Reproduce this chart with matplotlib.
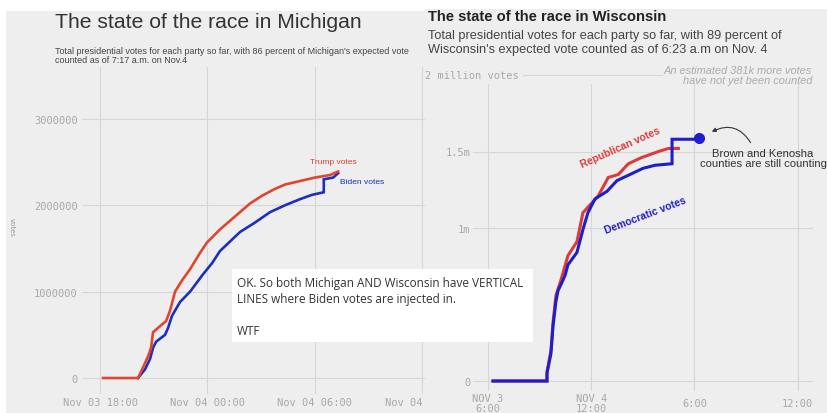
import matplotlib
matplotlib.use("Agg")
import matplotlib.pyplot as plt
from matplotlib.patches import Rectangle

W, H = 827, 414

# Michigan: hours since Nov 3 00:00, votes in millions
mi_trump_t = [18.17, 20.12, 20.35, 20.68, 20.85, 20.96, 21.35, 21.69, 21.91, 22.19, 22.58, 23.03,
              23.59, 23.98, 24.70, 25.26, 25.82, 26.38, 27.05, 27.78, 28.34, 29.17, 30.01, 30.85, 31.30]
mi_trump_v = [0, 0, 0.10, 0.25, 0.35, 0.53, 0.60, 0.66, 0.78, 1.00, 1.13, 1.26,
              1.45, 1.57, 1.72, 1.82, 1.92, 2.02, 2.11, 2.19, 2.24, 2.28, 2.32, 2.35, 2.39]
mi_biden_t = [20.12, 20.51, 20.79, 20.96, 21.13, 21.63, 21.80, 22.02, 22.47, 23.03, 23.75, 24.26,
              24.70, 25.26, 25.82, 26.66, 27.50, 28.34, 29.17, 29.84, 30.50, 30.50, 31.02, 31.30]
mi_biden_v = [0, 0.10, 0.22, 0.35, 0.42, 0.50, 0.58, 0.72, 0.88, 1.00, 1.20, 1.33,
              1.47, 1.58, 1.69, 1.80, 1.92, 2.00, 2.07, 2.12, 2.15, 2.30, 2.32, 2.37]
mi_ticks = [18, 24, 30, 36]
mi_ticklabels = ["Nov 03 18:00", "Nov 04 00:00", "Nov 04 06:00", "Nov 04 12:00"]
mi_yticks = [0, 1, 2, 3]
mi_yticklabels = ["0", "1000000", "2000000", "3000000"]

# Wisconsin
wi_dem_t = [18.29, 21.43, 21.43, 21.66, 21.78, 21.95, 22.07, 22.24, 22.48, 22.65, 23.17, 23.52,
            23.81, 24.22, 24.92, 25.50, 26.26, 27.01, 27.71, 28.70, 28.70, 30.03]
wi_dem_v = [0, 0, 0.05, 0.18, 0.36, 0.52, 0.59, 0.63, 0.69, 0.76, 0.84, 0.99,
            1.10, 1.19, 1.24, 1.31, 1.35, 1.39, 1.41, 1.42, 1.58, 1.58]
wi_rep_t = [18.29, 21.43, 21.43, 21.66, 21.78, 21.95, 22.24, 22.65, 23.17, 23.52, 24.41, 24.99,
            25.58, 26.16, 26.92, 27.91, 28.49, 29.07]
wi_rep_v = [0, 0, 0.06, 0.20, 0.38, 0.56, 0.66, 0.82, 0.91, 1.10, 1.21, 1.33,
            1.35, 1.42, 1.46, 1.50, 1.52, 1.52]
wi_dot = (30.27, 1.59)
wi_ticks = [18, 24, 30, 36]
wi_ticklabels = ["NOV 3\n6:00", "NOV 4\n12:00", "6:00", "12:00"]
wi_yticks = [0, 1, 1.5]
wi_yticklabels = ["0", "1m", "1.5m"]

bg = "#eeeeee"
grid = "#d6d6d6"
tickc = "#a8a8a8"
mono = "DejaVu Sans Mono"


def ax_at(fig, left, top, right, bottom, **kw):
    return fig.add_axes([left / W, 1 - bottom / H, (right - left) / W, (bottom - top) / H], **kw)


def fx(x):
    return x / W


def fy(y):
    return 1 - y / H


fig = plt.figure(figsize=(W / 100, H / 100), dpi=100, facecolor="white")

# panels
fig.patches.append(Rectangle((fx(6), 0), fx(425 - 6), fy(12), transform=fig.transFigure,
                             facecolor=bg, edgecolor="none", zorder=-1))

# ---------------- Michigan ----------------
ax = ax_at(fig, 82, 68, 425, 395)
ax.set_facecolor("none")
ax.set_xlim(16.99, 18 + (425 - 100) / 17.9)
ax.set_ylim(-0.185, 3.6)
ax.plot(mi_biden_t, mi_biden_v, color="#1c2fbf", lw=1.9, solid_joinstyle="miter")
ax.plot(mi_trump_t, mi_trump_v, color="#e0452f", lw=1.9, solid_joinstyle="miter")
ax.set_xticks(mi_ticks)
ax.set_xticklabels(mi_ticklabels, family=mono, fontsize=7.5, color=tickc)
ax.set_yticks(mi_yticks)
ax.set_yticklabels(mi_yticklabels, family=mono, fontsize=7.5, color=tickc)
ax.tick_params(length=0, pad=2.5)
ax.tick_params(axis="y", pad=3)
ax.grid(True, color=grid, lw=0.8)
for s in ax.spines.values():
    s.set_visible(False)
ax.text(mi_trump_t[-1] - 0.25, mi_trump_v[-1] + 0.07, "Trump votes", color="#d8402e", fontsize=6,
        ha="center", va="bottom", family="Liberation Sans")
ax.text(mi_biden_t[-1] + 0.1, mi_biden_v[-1] - 0.1, "Biden votes", color="#1c2fbf", fontsize=6,
        ha="left", va="center", family="Liberation Sans")

fig.text(fx(55), fy(22), "The state of the race in Michigan", fontsize=15.2, color="#333333",
         family="Liberation Sans", va="center", ha="left")
fig.text(fx(55), fy(56), "Total presidential votes for each party so far, with 86 percent of "
         "Michigan's expected vote\ncounted as of 7:17 a.m. on Nov.4", fontsize=6.5,
         color="#444444", family="Liberation Sans", va="center", ha="left", linespacing=0.95)
fig.text(fx(12), fy(228), "votes", rotation=270, fontsize=5, color="#999999", ha="center", va="center")

# ---------------- Wisconsin ----------------
fig.patches.append(Rectangle((fx(425), 0), fx(W - 425), fy(10), transform=fig.transFigure,
                             facecolor=bg, edgecolor="none", zorder=1.5))

wx = ax_at(fig, 473, 85, 813, 392, zorder=2)
wx.set_facecolor("none")
wx.set_xlim(18 - 15 / 17.2, 18 + 325 / 17.2)
wx.set_ylim(-10 / 153, (382 - 85) / 153)
wx.plot(wi_rep_t, wi_rep_v, color="#dd3b3b", lw=2.2, solid_joinstyle="miter")
wx.plot(wi_dem_t, wi_dem_v, color="#1e1ecc", lw=2.2, solid_joinstyle="miter")
wx.plot(*wi_dot, "o", color="#1e1ecc", ms=7)
wx.set_xticks(wi_ticks)
wx.set_xticklabels(wi_ticklabels, family=mono, fontsize=7.5, color=tickc, linespacing=1.0)
for lbl in wx.get_xticklabels():
    lbl.set_va("center")
wx.set_yticks(wi_yticks)
wx.set_yticklabels(wi_yticklabels, family=mono, fontsize=7.5, color=tickc)
wx.tick_params(axis="x", length=0, pad=8.5)
wx.tick_params(axis="y", length=0, pad=2)
wx.grid(True, color=grid, lw=0.8)
for s in wx.spines.values():
    s.set_visible(False)

# 2 million line with label
wx.text(17.13 - 48 / 17.2, 2.0, "2 million votes", family=mono, fontsize=7.5, color=tickc,
        ha="left", va="center", clip_on=False)
wx.plot([18 + (523 - 488) / 17.2, 18 + (662 - 488) / 17.2], [2.0, 2.0], color=grid, lw=0.8,
        clip_on=False)
wx.text(18 + (812 - 488) / 17.2, 2.0, "An estimated 381k more votes\nhave not yet been counted",
        fontsize=7.9, style="italic", color="#ababab", family="Liberation Sans", ha="right",
        va="center", linespacing=1.0, clip_on=False)

wx.text(18 + (620 - 488) / 17.2, (382 - 148) / 153, "Republican votes", color="#dd3b3b",
        fontsize=7.5, fontweight="bold", rotation=24, ha="center", va="center",
        family="Liberation Sans")
wx.text(18 + (645 - 488) / 17.2, (382 - 216) / 153, "Democratic votes", color="#1e1ecc",
        fontsize=7.5, fontweight="bold", rotation=21, ha="center", va="center",
        family="Liberation Sans")
wx.text(18 + (763 - 488) / 17.2, (382 - 159) / 153, "Brown and Kenosha\ncounties are still counting",
        fontsize=8.1, color="#333333", ha="center", va="center", family="Liberation Sans",
        linespacing=1.05, clip_on=False)
wx.annotate("", xy=(wi_dot[0] + 0.6, wi_dot[1] + 0.03),
            xytext=(18 + (752 - 488) / 17.2, (382 - 146) / 153),
            arrowprops=dict(arrowstyle="-|>", color="#333333", lw=0.8, mutation_scale=6,
                            connectionstyle="arc3,rad=0.5"))

fig.text(fx(428), fy(17), "The state of the race in Wisconsin", fontsize=10.6, fontweight="bold",
         color="#222222", family="Liberation Sans", va="center", ha="left", zorder=3)
fig.text(fx(428), fy(43), "Total presidential votes for each party so far, with 89 percent of\n"
         "Wisconsin's expected vote counted as of 6:23 a.m on Nov. 4", fontsize=9.2,
         color="#444444", family="Liberation Sans", va="center", ha="left", linespacing=1.2,
         zorder=3)

# overlay comment box
fig.patches.append(Rectangle((fx(232), fy(343)), fx(533 - 232), (343 - 270) / H,
                             transform=fig.transFigure, facecolor="white", edgecolor="none",
                             zorder=4))
fig.text(fx(237), fy(308), "OK. So both Michigan AND Wisconsin have VERTICAL\n"
         "LINES where Biden votes are injected in.\n\nWTF", fontsize=8.5, color="#333333",
         family="Open Sans", ha="left", va="center", linespacing=1.3, zorder=5)

fig.savefig("out.png", dpi=100, facecolor="white")
